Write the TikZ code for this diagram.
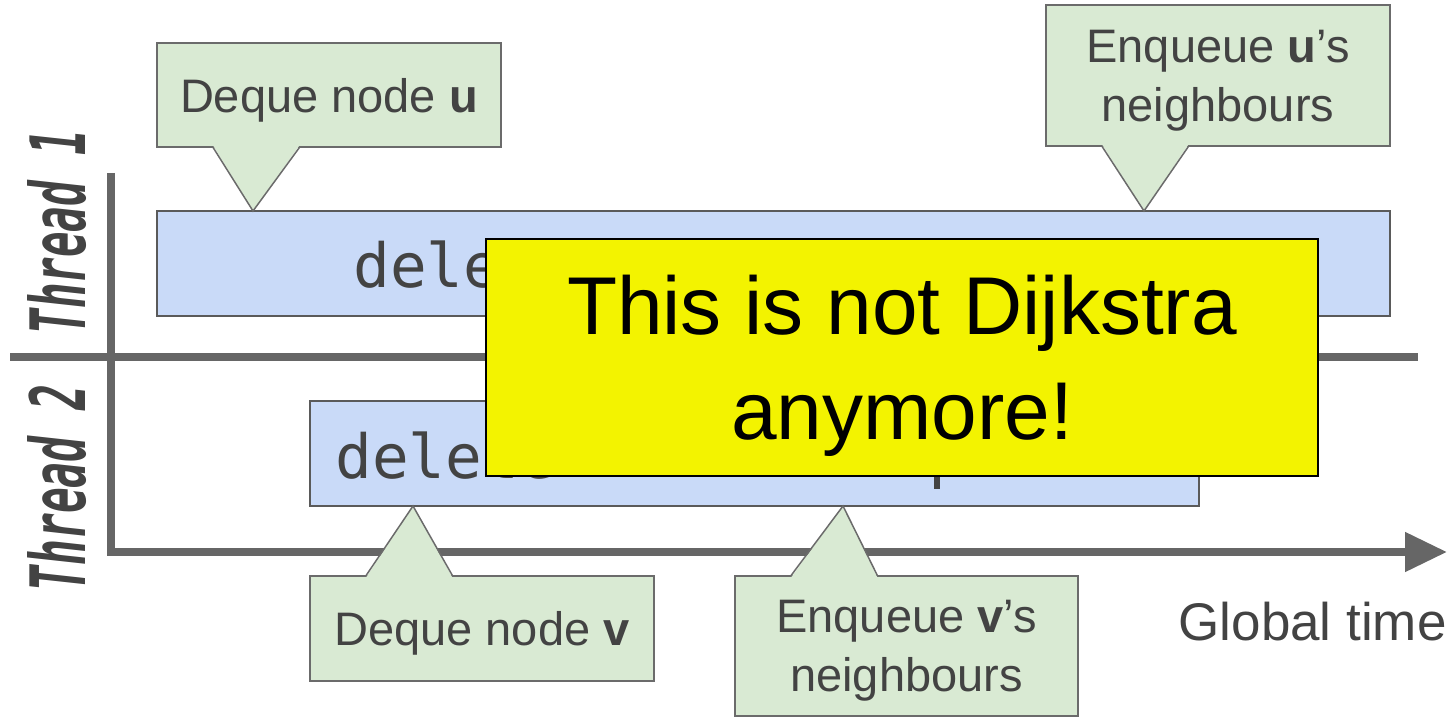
\documentclass[tikz,border=0pt]{standalone}
\usepackage{fontspec}
\setmainfont{Liberation Sans}
\newfontfamily\codefont{DejaVu Sans Mono}
\newfontfamily\threadfont{DejaVu Sans Mono}
\usetikzlibrary{arrows.meta}

\definecolor{axisgrey}{HTML}{666666}
\definecolor{inkgrey}{HTML}{434343}
\definecolor{callfill}{HTML}{D9EAD3}
\definecolor{callline}{HTML}{6B6B6B}
\definecolor{taskfill}{HTML}{C9DAF8}
\definecolor{taskline}{HTML}{5A5A5A}
\definecolor{alertfill}{RGB}{243,243,0}

% pointer of a callout: corner anchor, left/right offsets of the base (px), tip, inward shift
\newcommand\callpointer[5]{%
  \fill[callfill] ([shift={(#2*0.5pt,#5)}]#1) -- (#4) -- ([shift={(#3*0.5pt,#5)}]#1) -- cycle;
  \draw[callline, line width=0.75pt, line join=miter] ([xshift=#2*0.5pt]#1) -- (#4) -- ([xshift=#3*0.5pt]#1);}

\begin{document}
\begin{tikzpicture}[x=0.5pt, y=-0.5pt,
  axis/.style={draw=axisgrey, line width=4pt, line join=miter},
  taskbox/.style={draw=taskline, fill=taskfill, line width=1pt, inner sep=0pt, minimum height=52.5pt},
  calloutbox/.style={draw=callline, fill=callfill, line width=0.75pt, inner sep=0pt,
    text=inkgrey, align=center, text depth=0pt,
    font=\fontsize{23.5}{29.5}\selectfont},
  codetext/.style={anchor=base west, inner sep=0pt, text=inkgrey,
    font=\codefont\fontsize{30.5}{36}\selectfont},
  threadlabel/.style={rotate=90, inner sep=0pt, text=inkgrey,
    font=\threadfont\bfseries\itshape},
  alertbox/.style={draw=black, fill=alertfill, line width=1.2pt, inner sep=0pt,
    align=center, text depth=0pt, font=\fontsize{41}{52.5}\selectfont}]

\useasboundingbox (0,0) rectangle (1447,717);

% thread labels
\node[threadlabel] (th1) at (57,232) {\resizebox{102.5pt}{29pt}{Thread 1}};
\node[threadlabel] (th2) at (57,488) {\resizebox{103.5pt}{29pt}{Thread 2}};

% axes
\coordinate (ytop)   at (111,173);
\coordinate (origin) at (111,552);
\coordinate (tend)   at (1447,552);
\coordinate (sepL)   at (10,357);
\coordinate (sepR)   at (1418,357);
\draw[axis, -{Triangle[length=21pt, width=19pt]}] (ytop) -- (origin) -- (tend);
\draw[axis] (sepL) -- (sepR);

\node[anchor=base east, inner sep=0pt, text=inkgrey, font=\fontsize{26.5}{30}\selectfont]
  (gtime) at (1447,640) {Global time};

% work done by each thread
\node[taskbox, minimum width=616.5pt] (t1) at (773.5,263.5) {};
\node[taskbox, minimum width=444.5pt] (t2) at (754.5,453.5) {};
\node[codetext] (c1) at (353,287) {delete};
\node[codetext] (c2) at (335,478) {delete};
\draw[inkgrey, line width=3pt] (937,476) -- (937,489);

% callouts
\node[calloutbox, minimum width=172pt, minimum height=52pt] (du) at (329,95)
  {Deque node \textbf{u}};
\coordinate (duTip) at (253,211);
\callpointer{du.south west}{57}{143}{duTip}{1pt}

\node[calloutbox, minimum width=172pt, minimum height=70.5pt] (eu) at (1218,75.5)
  {Enqueue \textbf{u}’s\\neighbours};
\coordinate (euTip) at (1144,211);
\callpointer{eu.south west}{57}{143}{euTip}{1pt}

\node[calloutbox, minimum width=172pt, minimum height=52.5pt] (dv) at (482,628.5)
  {Deque node \textbf{v}};
\coordinate (dvTip) at (413,506);
\callpointer{dv.north west}{57}{143}{dvTip}{-1pt}

\node[calloutbox, minimum width=171.5pt, minimum height=70pt] (ev) at (906.5,646)
  {Enqueue \textbf{v}’s\\neighbours};
\coordinate (evTip) at (843,506);
\callpointer{ev.north west}{57}{143}{evTip}{-1pt}

% the remark on top
\node[alertbox, minimum width=416pt, minimum height=118.5pt] (alert) at (902,357.5)
  {This is not Dijkstra\\anymore!};
\end{tikzpicture}
\end{document}
